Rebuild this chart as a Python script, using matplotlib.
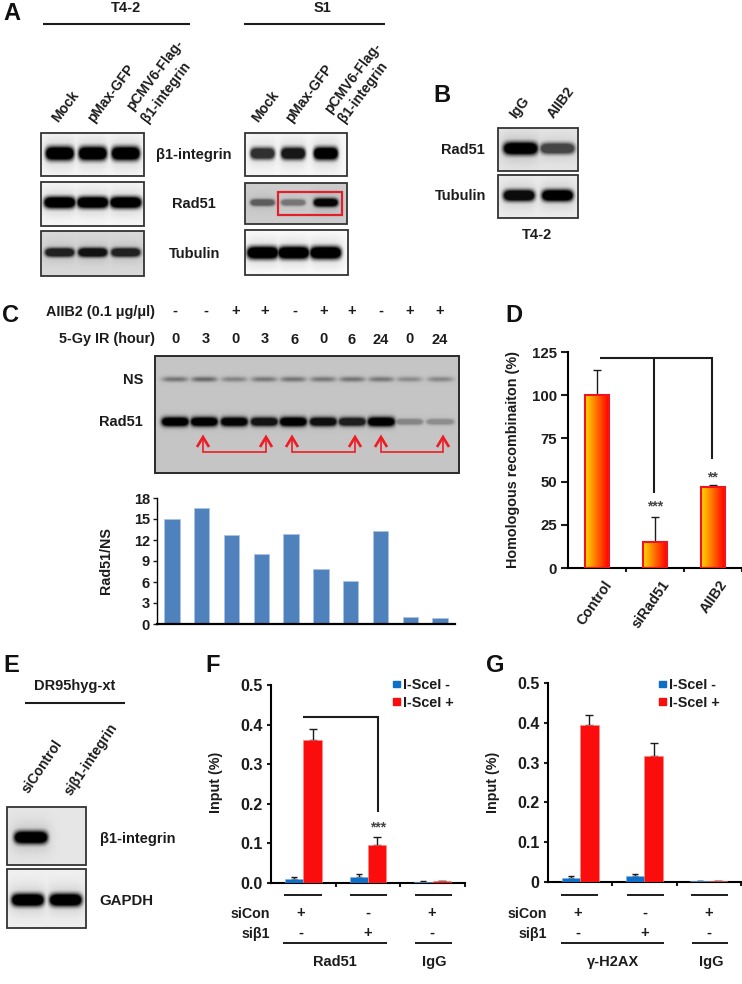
import matplotlib
matplotlib.use("Agg")
from matplotlib import pyplot as plt
from matplotlib.patches import Rectangle
import numpy as np

plt.rcParams['font.family'] = ['Liberation Sans', 'DejaVu Sans']
plt.rcParams['font.weight'] = 'bold'
plt.rcParams['axes.labelweight'] = 'bold'

W, H = 742, 984
INK = '#1c1c1c'

# panel C
c_values = [15, 16.6, 12.7, 10, 12.8, 7.9, 6.1, 13.3, 1, 0.8]
c_yticks = [0, 3, 6, 9, 12, 15, 18]
c_aiib2 = ['-', '-', '+', '+', '-', '+', '+', '-', '+', '+']
c_hours = ['0', '3', '0', '3', '6', '0', '6', '24', '0', '24']
c_ns = [.42, .48, .34, .40, .42, .40, .42, .40, .30, .32]
c_rad51 = [1, 1, .97, .90, 1, .92, .85, 1, .32, .28]

# panel D
d_labels = ['Control', 'siRad51', 'AIIB2']
d_values = [100, 15, 47]
d_err = [14.5, 14.5, 1]
d_yticks = [0, 25, 50, 75, 100, 125]

# panels F and G
f_neg = [.010, .016, .003]
f_pos = [.360, .097, .004]
f_neg_err = [.004, .007, .001]
f_pos_err = [.029, .020, .001]
g_neg = [.011, .014, .002]
g_pos = [.394, .316, .002]
g_neg_err = [.003, .006, .001]
g_pos_err = [.026, .034, .001]
chip_yticks = [0, .1, .2, .3, .4, .5]
sicon = ['+', '-', '+']
sib1 = ['-', '+', '-']

# blot band strengths
a_t42 = {'b1': [1, 1, 1], 'rad51': [1, 1, 1], 'tub': [.85, .92, .85]}
a_s1 = {'b1': [.8, .9, 1], 'rad51': [.55, .42, .97], 'tub': [1, 1, 1]}
b_rad51 = [1, .7]
b_tub = [.95, 1]
e_b1 = [1, 0]
e_gapdh = [1, 1]

fig = plt.figure(figsize=(W/100, H/100), dpi=100, facecolor='white')
ov = fig.add_axes([0, 0, 1, 1], zorder=5)
ov.patch.set_alpha(0)
ov.axis('off')


def px_axes(x0, y0, x1, y1):
    a = fig.add_axes([x0/W, 1-y1/H, (x1-x0)/W, (y1-y0)/H], zorder=2)
    a.patch.set_alpha(0)
    for s in ['top', 'right']:
        a.spines[s].set_visible(False)
    return a


def txt(x, y, s, size=10.5, ha='center', va='center', rot=0, color=INK):
    ov.text(x, y, s, fontsize=size, ha=ha, va=va, rotation=rot,
            rotation_mode='anchor', color=color)


def line(xs, ys, lw=1.5, color=INK):
    ov.plot(xs, ys, color=color, lw=lw, solid_capstyle='butt', solid_joinstyle='miter')


def blot(x0, y0, x1, y1, strengths, bg=.97, fy=.5, half_w=None, half_h=6.5,
         lanes=None):
    # soft gel bands drawn as an image inside a framed box
    xs, ys = np.meshgrid(np.arange(x0, x1, .5), np.arange(y0, y1, .5))
    n = len(strengths)
    if lanes is None:
        lanes = [(i+.5)/n for i in range(n)]
    if half_w is None:
        half_w = (x1-x0)/n*.40
    dark = np.zeros_like(xs, dtype=float)
    yc = y0 + fy*(y1-y0)
    for f, s in zip(lanes, strengths):
        xc = x0 + f*(x1-x0)
        hh = half_h*(.55+.45*s)
        m = np.exp(-((xs-xc)/half_w)**6)*np.exp(-((ys-yc)/hh)**2)
        halo = np.exp(-((xs-xc)/(half_w*1.2))**4)*np.exp(-((ys-yc)/(hh*2.4))**2)
        dark = np.maximum(dark, s*np.clip(1.9*m, 0, 1))
        dark = np.maximum(dark, .16*s*halo)
    img = bg*(1-dark)
    ov.imshow(img, cmap='gray', vmin=0, vmax=1, extent=[x0, x1, y1, y0],
              aspect='auto', interpolation='bilinear', zorder=1)
    ov.add_patch(Rectangle((x0, y0), x1-x0, y1-y0, fill=False, ec='#333333', lw=1.3, zorder=2))


# panel letters
for s, x, y in [('A', 3, 13), ('B', 433, 95), ('C', 2, 315), ('D', 505, 316),
                ('E', 3, 665), ('F', 205, 665), ('G', 486, 665)]:
    txt(x, y, s, size=17, ha='left', color='#111111')

# ---- A
txt(126, 8, 'T4-2')
txt(322, 8, 'S1')
line([43, 190], [24, 24])
line([244, 385], [24, 24])
txt(58, 123, 'Mock', ha='left', va='baseline', rot=53, size=10)
txt(94, 123, 'pMax-GFP', ha='left', va='baseline', rot=53, size=10)
txt(133, 111, 'pCMV6-Flag-', ha='left', va='baseline', rot=53, size=10)
txt(148, 123, 'β1-integrin', ha='left', va='baseline', rot=53, size=10)
txt(258, 123, 'Mock', ha='left', va='baseline', rot=53, size=10)
txt(292, 123, 'pMax-GFP', ha='left', va='baseline', rot=53, size=10)
txt(331, 114, 'pCMV6-Flag-', ha='left', va='baseline', rot=53, size=10)
txt(345, 123, 'β1-integrin', ha='left', va='baseline', rot=53, size=10)

t_lanes = [.18, .50, .82]
s_lanes = [.17, .47, .79]
blot(41, 133, 144, 176, a_t42['b1'], fy=.47, lanes=t_lanes, half_w=14)
blot(41, 182, 144, 226, a_t42['rad51'], fy=.46, lanes=t_lanes, half_w=15.5, half_h=5.5)
blot(41, 231, 144, 276, a_t42['tub'], bg=.85, fy=.47, lanes=t_lanes, half_w=14.5, half_h=4.5)
blot(245, 133, 347, 176, a_s1['b1'], fy=.47, lanes=s_lanes, half_w=12, half_h=6)
blot(245, 183, 347, 224, a_s1['rad51'], bg=.80, fy=.47, lanes=s_lanes, half_w=12, half_h=4)
blot(245, 230, 348, 275, a_s1['tub'], bg=.99, fy=.50, lanes=[.17, .47, .78], half_w=15.5, half_h=6)
ov.add_patch(Rectangle((278, 192), 64, 23, fill=False, ec='#e0202a', lw=1.6, zorder=3))
txt(194, 155, 'β1-integrin', size=10.5)
txt(194, 204, 'Rad51', size=10.5)
txt(195, 254, 'Tubulin', size=10.5)

# ---- B
txt(516, 119, 'IgG', ha='left', va='baseline', rot=53, size=10)
txt(554, 119, 'AIIB2', ha='left', va='baseline', rot=53, size=10)
blot(498, 128, 578, 171, b_rad51, bg=.90, fy=.47, lanes=[.28, .74], half_w=17, half_h=6)
blot(498, 175, 578, 218, b_tub, bg=.93, fy=.47, lanes=[.26, .74], half_w=15.5, half_h=5.5)
txt(485, 150, 'Rad51', ha='right', size=10.5)
txt(486, 196, 'Tubulin', ha='right', size=10.5)
txt(537, 235, 'T4-2', size=10.5)

# ---- C
txt(155, 312, 'AIIB2 (0.1 μg/μl)', ha='right', size=10.4)
txt(155, 339, '5-Gy IR (hour)', ha='right', size=10.4)
sign_x = [175, 206, 236, 265, 295, 324, 352, 381, 410, 440]
hour_y = [339, 339, 339, 339, 340, 339, 340, 340, 339, 340]
for x, a_s, h, hy in zip(sign_x, c_aiib2, c_hours, hour_y):
    txt(x, 311, a_s, size=10.5)
    txt(x, hy, h, size=10.5)

bx0, by0, bx1, by1 = 155, 356, 459, 473
c_lanes = [(x-bx0)/(bx1-bx0) for x in [175, 204, 234, 264, 293, 323, 352, 381, 409, 440]]
xs, ys = np.meshgrid(np.arange(bx0, bx1, .5), np.arange(by0, by1, .5))
dark = np.zeros_like(xs, dtype=float)
for f, a_n, a_r in zip(c_lanes, c_ns, c_rad51):
    xc = bx0 + f*(bx1-bx0)
    dark = np.maximum(dark, a_n*np.exp(-((xs-xc)/13)**4)*np.exp(-((ys-379)/2.6)**2))
    dark = np.maximum(dark, a_r*np.clip(1.8*np.exp(-((xs-xc)/13.5)**6)*np.exp(-((ys-421.5)/(2+2.4*a_r))**2), 0, 1))
ov.imshow(.77*(1-dark), cmap='gray', vmin=0, vmax=1, extent=[bx0, bx1, by1, by0],
          aspect='auto', interpolation='bilinear', zorder=1)
ov.add_patch(Rectangle((bx0, by0), bx1-bx0, by1-by0, fill=False, ec='#2a2a2a', lw=1.4, zorder=2))
txt(143, 380, 'NS', ha='right', size=10.5)
txt(143, 422, 'Rad51', ha='right', size=10.5)
for x1, x2 in [(203, 266), (292, 355), (381, 443)]:
    line([x1, x1, x2, x2], [437, 452, 452, 437], lw=1.2, color='#ee1c25')
    for x in [x1, x2]:
        line([x-6, x, x+6], [447, 437, 447], lw=1.9, color='#ee1c25')

ax = px_axes(157, 498, 455, 624)
ax.bar(range(len(c_values)), c_values, width=.52, color='#4f81bd', edgecolor='#a9c4e6', lw=.5)
ax.set_xlim(-.5, 9.5)
ax.set_ylim(0, 18)
ax.set_xticks([])
ax.set_yticks(c_yticks)
ax.tick_params(axis='y', length=3, width=1, labelsize=10.5, pad=2, colors=INK)
ax.spines['left'].set_linewidth(1)
ax.spines['bottom'].set_linewidth(1.6)
txt(106, 561, 'Rad51/NS', rot=90, size=10.3)

# ---- D
ax = px_axes(568, 352, 742, 568)
x = np.arange(len(d_values))
grad = np.linspace(0, 1, 64)[None, :]
grad_rgb = np.dstack([np.ones_like(grad), .85*(1-grad), 0*grad])
for xi, v in zip(x, d_values):
    ax.imshow(grad_rgb, extent=[xi-.2, xi+.2, 0, v], aspect='auto', zorder=2)
ax.bar(x, d_values, width=.41, fill=False, edgecolor='#f0141e', lw=1.5, zorder=3)
ax.errorbar(x, d_values, yerr=[np.zeros(3), d_err], fmt='none', ecolor=INK, elinewidth=1, capsize=3, zorder=1)
ax.set_xlim(-.5, 2.5)
ax.set_ylim(0, 125)
ax.set_xticks([.5, 1.5, 2.5])
ax.set_xticklabels([])
ax.set_yticks(d_yticks)
ax.tick_params(axis='y', length=5, width=1.5, labelsize=10.8, pad=3, colors=INK)
ax.tick_params(axis='x', length=3, width=1.5, colors=INK)
ax.spines['left'].set_linewidth(1.5)
ax.spines['bottom'].set_linewidth(1.5)
for xi, s in zip([603, 661, 719], d_labels):
    txt(xi, 578, s, ha='right', va='top', rot=55, size=10.3)
txt(513, 460, 'Homologous recombinaiton (%)', rot=90, size=10.4)
line([600, 712, 712], [358, 358, 459], lw=1.5)
line([654, 654], [358, 493], lw=1.5)
txt(655, 506, '***', size=10, color='#444444')
txt(712, 477, '**', size=10, color='#444444')

# ---- E
txt(75, 686, 'DR95hyg-xt', size=10.5)
line([25, 125], [703, 703])
txt(29, 794, 'siControl', ha='left', va='baseline', rot=56, size=10)
txt(71, 796, 'siβ1-integrin', ha='left', va='baseline', rot=56, size=10)
blot(7, 807, 86, 865, e_b1, bg=.90, fy=.52, lanes=[.30, .9], half_w=16.5, half_h=6)
blot(7, 869, 86, 928, e_gapdh, bg=.94, fy=.52, lanes=[.26, .74], half_w=16, half_h=6)
txt(100, 839, 'β1-integrin', ha='left', size=10.5)
txt(99, 901, 'GAPDH', ha='left', size=10.8)


def chip(axbox, neg, pos, neg_err, pos_err, ytick_labels, tick_x, dash_segments, long_segments,
         sign_xs, label_right, names, name_xs, sq_x):
    a = px_axes(*axbox)
    xx = np.arange(3)
    w = .285
    a.errorbar(xx-w/2, neg, yerr=[np.zeros(3), neg_err], fmt='none', ecolor=INK, elinewidth=1, capsize=2.5)
    a.errorbar(xx+w/2, pos, yerr=[np.zeros(3), pos_err], fmt='none', ecolor=INK, elinewidth=1, capsize=3)
    a.bar(xx-w/2, neg, width=w, color='#0f6fc6', edgecolor='#7fb2e5', lw=.4, zorder=3)
    a.bar(xx+w/2, pos, width=w, color='#fb0d0d', edgecolor='#ff8a80', lw=.4, zorder=3)
    a.set_xlim(-.5, (axbox[2]-axbox[0])/65-.5)
    a.set_ylim(0, .5)
    a.set_xticks(tick_x)
    a.set_xticklabels([])
    a.set_yticks(chip_yticks)
    a.set_yticklabels(ytick_labels)
    a.tick_params(axis='y', length=3, width=1.5, labelsize=11.5, pad=3, colors=INK)
    a.tick_params(axis='x', length=3, width=1.5, colors=INK)
    a.spines['left'].set_linewidth(1.5)
    a.spines['bottom'].set_linewidth(1.5)
    for x0, x1 in dash_segments:
        line([x0, x1], [895, 895], lw=1.4)
    for x0, x1 in long_segments:
        line([x0, x1], [943, 943], lw=1.4)
    txt(label_right, 914, 'siCon', ha='right', size=10.3)
    txt(label_right, 934, 'siβ1', ha='right', size=10.3)
    for xs_, s1, s2 in zip(sign_xs, sicon, sib1):
        txt(xs_, 913, s1, size=10.5)
        txt(xs_, 933, s2, size=10.5)
    for n_, nx in zip(names, name_xs):
        txt(nx, 962, n_, size=10.5)
    ov.add_patch(Rectangle((sq_x, 681), 7, 6, color='#0f6fc6', zorder=3))
    ov.add_patch(Rectangle((sq_x, 698), 7, 7, color='#fb0d0d', zorder=3))
    txt(sq_x+10, 685, 'I-SceI -', ha='left', size=10.4)
    txt(sq_x+10, 703, 'I-SceI +', ha='left', size=10.4)
    txt(axbox[0]-55, 782, 'Input (%)', rot=90, size=10.3)


# ---- F
chip((271, 685, 465, 883), f_neg, f_pos, f_neg_err, f_pos_err,
     ['0.0', '0.1', '0.2', '0.3', '0.4', '0.5'], [.5, 1.5, 2.5],
     [(284, 322), (350, 387), (415, 452)], [(283, 387), (415, 452)],
     [301, 368, 432], 270, ['Rad51', 'IgG'], [335, 434], 393)
line([303, 378, 378], [717, 717, 812], lw=1.5)
txt(378, 827, '***', size=10, color='#444444')

# ---- G
chip((548, 683, 741, 882), g_neg, g_pos, g_neg_err, g_pos_err,
     ['0', '0.1', '0.2', '0.3', '0.4', '0.5'], [.5, 1.5, 2.5],
     [(561, 598), (627, 664), (691, 728)], [(561, 664), (692, 728)],
     [578, 645, 709], 547, ['γ-H2AX', 'IgG'], [613, 711], 659)

ov.set_xlim(0, W)
ov.set_ylim(H, 0)
fig.savefig('out.png', dpi=100, facecolor='white')
